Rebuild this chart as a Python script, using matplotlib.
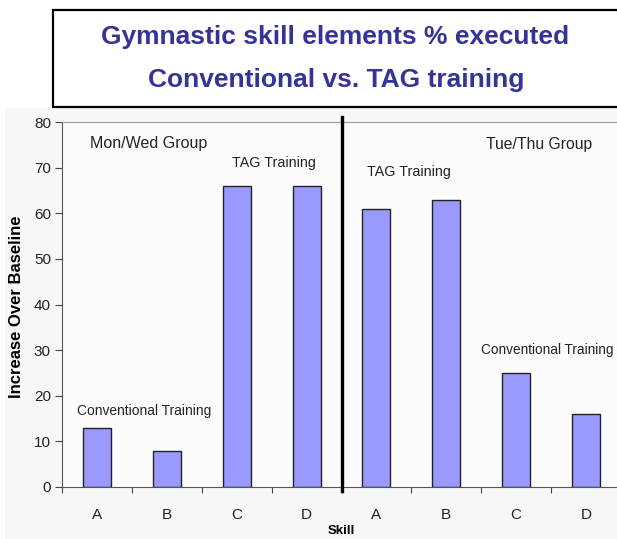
import numpy as np
import matplotlib.pyplot as plt
from matplotlib.patches import Rectangle

# -------------------------------
# Data
# -------------------------------
skills = ['A', 'B', 'C', 'D', 'A', 'B', 'C', 'D']
increase = [13, 8, 66, 66, 61, 63, 25, 16]
yticks = [0, 10, 20, 30, 40, 50, 60, 70, 80]

title_lines = ['Gymnastic skill elements % executed', 'Conventional vs. TAG training']

bar_color = '#9999FF'
title_color = '#333399'
txt_color = '#222222'
arial = ['Liberation Sans', 'DejaVu Sans']

fig = plt.figure(figsize=(6.17, 5.39), dpi=100)
fig.patch.set_facecolor('white')

# light gray chart area under the title box
fig.patches.append(Rectangle((5 / 617, 0), 1, 1 - 108 / 539, transform=fig.transFigure,
                             facecolor='#F7F7F7', edgecolor='none', zorder=-10))

# title box
fig.patches.append(Rectangle((53 / 617, 1 - 107 / 539), 0.95, 97 / 539, transform=fig.transFigure,
                             facecolor='white', edgecolor='black', linewidth=1.6, zorder=-5))
fig.text(335 / 617, 1 - 37 / 539, title_lines[0], ha='center', va='center',
         fontsize=19, fontweight='bold', color=title_color, family=arial)
fig.text(336 / 617, 1 - 80 / 539, title_lines[1], ha='center', va='center',
         fontsize=19, fontweight='bold', color=title_color, family=arial)

# -------------------------------
# Bars
# -------------------------------
ax = fig.add_axes([62 / 617, 52 / 539, 559 / 617, 365 / 539])
ax.set_zorder(2)
ax.set_facecolor('#FCFCFC')
x = np.arange(len(skills))
ax.bar(x, increase, width=0.4, color=bar_color, edgecolor='#222222', linewidth=1.0, zorder=3)

ax.set_xlim(-0.5, len(skills) - 0.5)
ax.set_ylim(0, 80)
ax.set_yticks(yticks)
ax.set_yticklabels([str(v) for v in yticks], family=arial, fontsize=11, color=txt_color)

# tick marks at category boundaries, labels at centers
ax.set_xticks(np.arange(-0.5, len(skills), 1.0))
ax.set_xticklabels([])
ax.set_xticks(x, minor=True)
ax.set_xticklabels(skills, minor=True, family=arial, fontsize=11, color=txt_color)
ax.tick_params(axis='x', which='minor', length=0, pad=15)
ax.tick_params(axis='x', which='major', length=4, color='#444444')
ax.tick_params(axis='y', length=5, color='#444444', pad=3)

ax.spines['right'].set_visible(False)
ax.spines['top'].set_color('#999999')
ax.spines['top'].set_linewidth(0.8)
ax.spines['left'].set_color('#555555')
ax.spines['bottom'].set_color('#555555')

# group divider
ax.plot([3.5, 3.5], [-0.8, 81], color='black', linewidth=2.4, clip_on=False, zorder=4)

ax.set_ylabel('Increase Over Baseline', fontsize=12, fontweight='bold', family=arial)
ax.yaxis.set_label_coords(-38 / 559, 0.495)
ax.set_xlabel('Skill', fontsize=9.5, fontweight='bold', family=arial)
ax.xaxis.set_label_coords(0.5, -0.105)

# annotations
ax.text(-0.1, 75.2, 'Mon/Wed Group', fontsize=11.5, family=arial, color=txt_color, va='center')
ax.text(1.93, 71.0, 'TAG Training', fontsize=10.3, family=arial, color=txt_color, va='center')
ax.text(-0.29, 16.7, 'Conventional Training', fontsize=9.9, family=arial, color=txt_color, va='center')
ax.text(3.86, 69.0, 'TAG Training', fontsize=10.3, family=arial, color=txt_color, va='center')
ax.text(5.57, 75.0, 'Tue/Thu Group', fontsize=11.3, family=arial, color=txt_color, va='center')
ax.text(5.49, 30.0, 'Conventional Training', fontsize=9.8, family=arial, color=txt_color, va='center')

fig.savefig('out.png', dpi=100, facecolor=fig.get_facecolor())
